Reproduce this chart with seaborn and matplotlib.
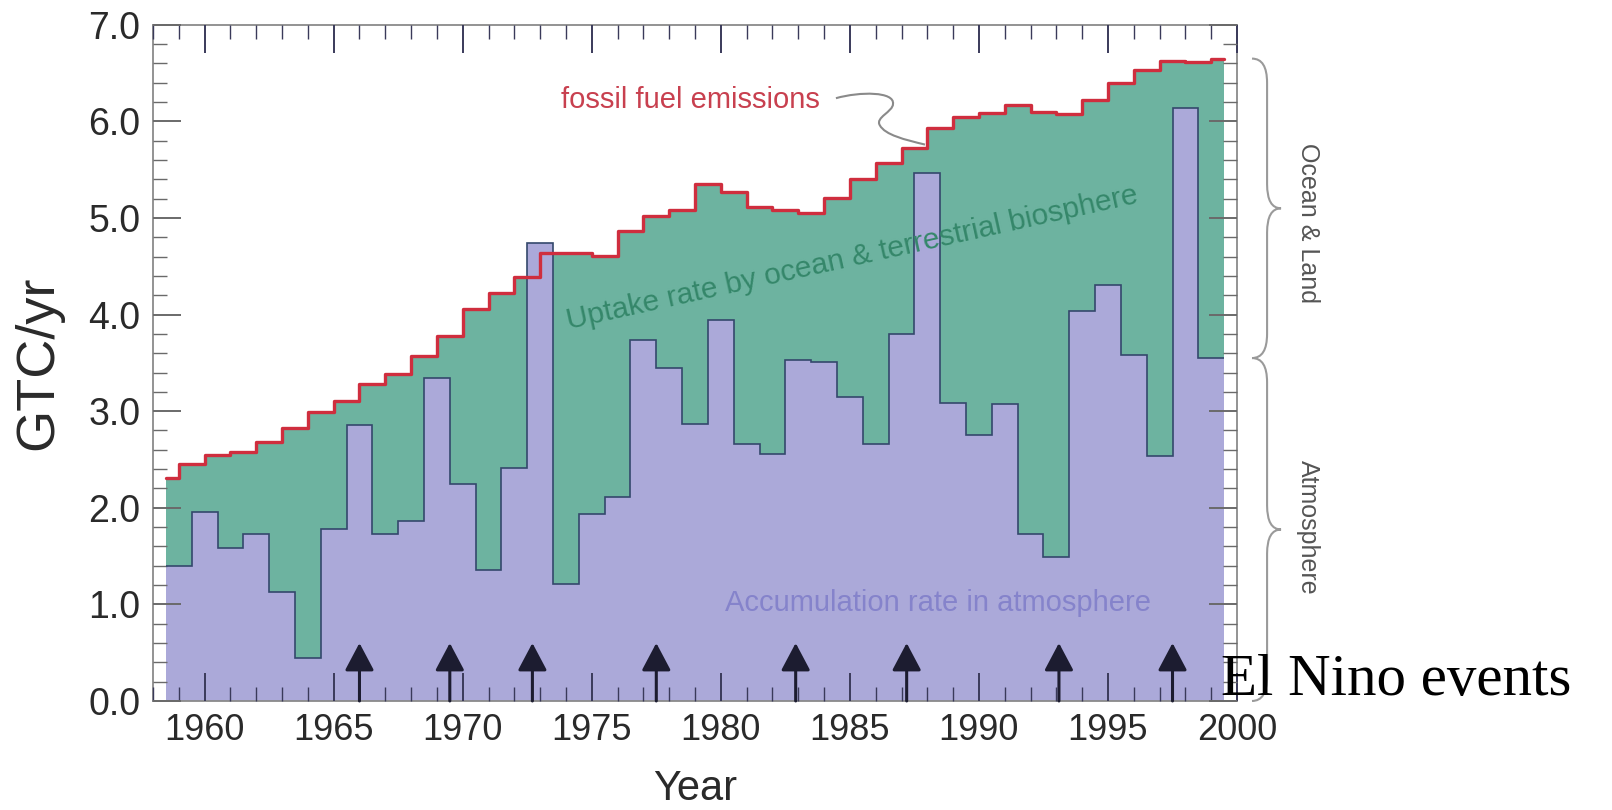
import numpy as np
import pandas as pd
import matplotlib
matplotlib.use("Agg")
import matplotlib.pyplot as plt
import seaborn as sns
from matplotlib.path import Path
from matplotlib.patches import PathPatch
from matplotlib.ticker import MultipleLocator, FormatStrFormatter
import matplotlib.transforms as mtransforms

# ---------------- data ----------------
emission_years = list(range(1958, 2000))
emissions = [2.31, 2.45, 2.55, 2.58, 2.68, 2.83, 2.99, 3.11, 3.28, 3.39,
             3.57, 3.78, 4.06, 4.22, 4.39, 4.64, 4.64, 4.61, 4.87, 5.02,
             5.08, 5.35, 5.27, 5.11, 5.08, 5.05, 5.21, 5.40, 5.57, 5.72,
             5.93, 6.05, 6.09, 6.17, 6.10, 6.08, 6.22, 6.40, 6.53, 6.62,
             6.61, 6.65]

atmos_years = list(range(1959, 2000))
atmosphere = [1.40, 1.96, 1.58, 1.73, 1.13, 0.45, 1.78, 2.86, 1.73, 1.86,
              3.34, 2.25, 1.36, 2.41, 4.74, 1.21, 1.94, 2.11, 3.74, 3.45,
              2.87, 3.94, 2.66, 2.56, 3.53, 3.51, 3.15, 2.66, 3.80, 5.47,
              3.08, 2.75, 3.07, 1.73, 1.49, 4.04, 4.31, 3.58, 2.54, 6.14,
              3.55]

el_nino_years = [1966.0, 1969.5, 1972.7, 1977.5, 1982.9, 1987.2, 1993.1, 1997.5]

x_ticks = [1960, 1965, 1970, 1975, 1980, 1985, 1990, 1995, 2000]
y_ticks = [0, 1, 2, 3, 4, 5, 6, 7]

# ---------------- style ----------------
sns.set_theme(style="ticks")
plt.rcParams["font.family"] = ["Liberation Sans", "DejaVu Sans"]

GREEN = "#6db3a0"
PURPLE = "#aba9d9"
EDGE = "#34486c"
RED = "#cf2e3e"

fig = plt.figure(figsize=(16.12, 8.10), dpi=100)
ax = fig.add_axes([0.0949, 0.1346, 0.6725, 0.8348])

# step edges derived from the year arrays
atm_edges = np.append(np.array(atmos_years, float) - 0.5, atmos_years[-1] + 0.5)
em_edges = np.concatenate([[atm_edges[0]],
                           np.array(emission_years[1:], float),
                           [atm_edges[-1]]])

ax.stairs(emissions, em_edges, fill=True, color=GREEN, zorder=1)
ax.stairs(atmosphere, atm_edges, fill=True, color=PURPLE, zorder=2)
ax.stairs(atmosphere, atm_edges, baseline=None, color=EDGE, lw=1.2, zorder=3)

line_df = pd.DataFrame({"x": em_edges, "y": emissions + [emissions[-1]]})
sns.lineplot(data=line_df, x="x", y="y", drawstyle="steps-post", color=RED,
             lw=2.4, estimator=None, sort=False, ax=ax, zorder=4)

# El Nino arrows
for yr in el_nino_years:
    ax.annotate("", xy=(yr, 0.6), xytext=(yr, 0.0),
                arrowprops=dict(arrowstyle="-|>,head_length=0.85,head_width=0.45",
                                color="#1c1c30", lw=2.2, shrinkA=0, shrinkB=0,
                                mutation_scale=20),
                zorder=6)

# axes setup
ax.set_xlim(1958, 2000)
ax.set_ylim(0, 7)
ax.set_xticks(x_ticks)
ax.set_yticks(y_ticks)
ax.xaxis.set_minor_locator(MultipleLocator(1))
ax.yaxis.set_minor_locator(MultipleLocator(0.2))
ax.yaxis.set_major_formatter(FormatStrFormatter("%.1f"))
ax.set_axisbelow(False)
ax.tick_params(which="both", direction="in", top=True, right=True)
ax.tick_params(which="major", length=20, width=1.4)
ax.tick_params(which="minor", length=10, width=1.0)
ax.tick_params(axis="x", which="both", color="#3a3a5a")
ax.tick_params(axis="y", which="both", color="#6a6a6a")
ax.tick_params(axis="x", labelsize=26, pad=9, labelcolor="#2a2a2a")
ax.tick_params(axis="y", labelsize=27, pad=9, labelcolor="#2a2a2a")
for s in ax.spines.values():
    s.set_color("#8a8a8a")
    s.set_linewidth(1.3)

ax.set_xlabel("Year", fontsize=30, labelpad=15, color="#2a2a2a")
ax.set_ylabel("GTC/yr", fontsize=39, labelpad=18, color="#2a2a2a")

# annotations inside plot
ax.text(1983.84, 6.22, "fossil fuel emissions", fontsize=21, color="#c8404f",
        ha="right", va="center", zorder=7)
leader = Path([(1984.46, 6.24), (1985.39, 6.31), (1986.74, 6.31), (1986.67, 6.18),
               (1986.67, 6.10), (1985.97, 6.04), (1986.16, 5.96),
               (1986.36, 5.86), (1987.13, 5.81), (1987.91, 5.76)],
              [Path.MOVETO, Path.CURVE4, Path.CURVE4, Path.CURVE4,
               Path.CURVE4, Path.CURVE4, Path.CURVE4,
               Path.CURVE4, Path.CURVE4, Path.CURVE4])
ax.add_patch(PathPatch(leader, fill=False, edgecolor="#8a8a8a", lw=1.5, zorder=7))

ax.text(1974.1, 3.85, "Uptake rate by ocean & terrestrial biosphere", fontsize=21.5,
        color="#35876a", rotation=12.5, rotation_mode="anchor",
        ha="left", va="baseline", zorder=7)
ax.text(1988.4, 1.01, "Accumulation rate in atmosphere", fontsize=21,
        color="#8583cb", ha="center", va="center", zorder=7)

# braces on the right
trans = mtransforms.blended_transform_factory(ax.transAxes, ax.transData)


def brace(y_top, y_bot, xe=1.0138, xb=1.0277, xt=1.0406, r=0.25):
    ym = (y_top + y_bot) / 2
    verts = [(xe, y_top), (xb, y_top), (xb, y_top - r),
             (xb, ym + r), (xb, ym), (xt, ym),
             (xb, ym), (xb, ym - r),
             (xb, y_bot + r), (xb, y_bot), (xe, y_bot)]
    codes = [Path.MOVETO, Path.CURVE3, Path.CURVE3,
             Path.LINETO, Path.CURVE3, Path.CURVE3,
             Path.CURVE3, Path.CURVE3,
             Path.LINETO, Path.CURVE3, Path.CURVE3]
    p = PathPatch(Path(verts, codes), transform=trans, fill=False,
                  edgecolor="#9a9a9a", lw=1.5, clip_on=False)
    ax.add_patch(p)


brace(emissions[-1], atmosphere[-1])
brace(atmosphere[-1], 0.0)
ax.text(1.0655, 4.95, "Ocean & Land", transform=trans, rotation=-90,
        ha="center", va="center", fontsize=18, color="#555555")
ax.text(1.0655, 1.80, "Atmosphere", transform=trans, rotation=-90,
        ha="center", va="center", fontsize=18, color="#555555")

fig.text(0.7575, 0.142, "El Nino events", fontsize=42.5, color="black",
         family=["Liberation Serif", "DejaVu Serif"], ha="left", va="baseline")

fig.savefig("out.png", dpi=100, facecolor="white")
